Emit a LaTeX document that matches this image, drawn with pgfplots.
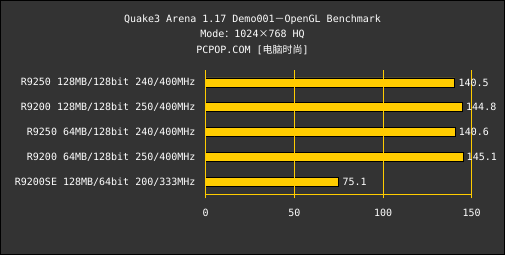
\documentclass[border=0pt]{standalone}
\usepackage{pgfplots}
\pgfplotsset{compat=1.18}
\usepackage{fontspec}
\setmainfont{DejaVu Sans Mono}
\newfontfamily\cjk{Noto Sans CJK SC}
\definecolor{bg}{HTML}{333333}
\definecolor{bary}{HTML}{FFCC00}
\newcommand{\ff}{\fontsize{10bp}{12bp}\selectfont}
\begin{document}
\begin{tikzpicture}
\fill[bg] (0,0) rectangle (505bp,255bp);
\draw[black,line width=1bp] (0.5bp,0.5bp) rectangle (504.5bp,254.5bp);
\node[text=white,font=\ff,inner sep=0pt] at (252.5bp,235bp) {Quake3 Arena 1.17 Demo001{\cjk －}OpenGL Benchmark};
\node[text=white,font=\ff,inner sep=0pt] at (252.5bp,220.5bp) {Mode{\cjk ：}1024{\cjk ×}768 HQ};
\node[text=white,font=\ff,inner sep=0pt] at (252.5bp,205bp) {PCPOP.COM [{\cjk 电脑时尚}]};
\begin{axis}[
  at={(205.7bp,60.7bp)}, anchor=south west,
  scale only axis, width=266bp, height=124.3bp,
  xmin=0, xmax=150, ymin=-0.5, ymax=4.5,
  y dir=reverse,
  xbar, bar width=9bp,
  axis lines*=left,
  axis line style={bary, line width=0.8bp},
  xmajorgrids, grid style={bary, line width=0.8bp},
  axis on top,
  xtick={0,50,100,150},
  ytick={0,1,2,3,4},
  yticklabels={R9250 128MB/128bit 240/400MHz, R9200 128MB/128bit 250/400MHz, R9250 64MB/128bit 240/400MHz, R9200 64MB/128bit 250/400MHz, R9200SE 128MB/64bit 200/333MHz},
  tick align=outside, major tick length=4bp,
  xtick style={bary, line width=0.8bp},
  ytick style={draw=none},
  /pgf/number format/assume math mode=true,
  xticklabel style={text=white, font=\ff, yshift=-7bp},
  yticklabel style={text=white, font=\ff, inner sep=0pt, xshift=-6bp},
  nodes near coords,
  nodes near coords style={text=white, font=\ff, /pgf/number format/.cd, fixed, fixed zerofill, precision=1, assume math mode=true},
]
\addplot[fill=bary, draw=black, line width=0.8bp] coordinates {(140.5,0) (144.8,1) (140.6,2) (145.1,3) (75.1,4)};
\end{axis}
\end{tikzpicture}
\end{document}
